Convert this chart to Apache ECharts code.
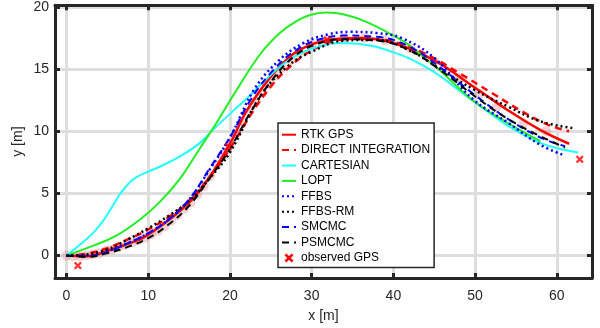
<!DOCTYPE html>
<html>
<head>
<meta charset="utf-8">
<script src="https://cdn.jsdelivr.net/npm/echarts@6/dist/echarts.min.js"></script>
<style>html,body{margin:0;padding:0;background:#fff}#c{width:600px;height:328px}</style>
</head>
<body>
<div id="c"></div>
<script>
// ---- data ----
const xTicks = [0, 10, 20, 30, 40, 50, 60];
const yTicks = [0, 5, 10, 15, 20];

const rtkX = [0, 2.5, 5.3, 7.5, 9.4, 12.6, 15.5, 17.9, 20.4, 22, 25, 27.7, 30, 32, 36, 40, 45, 50, 54, 58, 61.5];
const rtkY = [0, -0.05, 0.45, 0.95, 1.45, 2.9, 4.6, 6.7, 9.5, 11.6, 14.4, 16.2, 17.0, 17.35, 17.5, 17.1, 15.7, 13.5, 11.7, 10.1, 9.0];

const diX = [0, 2.5, 5, 7.5, 10, 12.5, 15, 17.5, 20, 22.5, 25, 27.5, 30, 33, 36, 40, 44, 48, 52, 56, 59, 61.5];
const diY = [0, 0.15, 0.6, 1.3, 2.1, 3.1, 4.4, 6.3, 8.6, 11.3, 13.6, 15.3, 16.5, 17.3, 17.45, 17.2, 16.2, 14.7, 13.1, 11.5, 10.5, 10.0];

const cartX = [0, 1.6, 3.3, 4.6, 5.8, 6.4, 7.2, 8.0, 8.8, 9.8, 11.4, 13.9, 16.3, 17.9, 20, 22, 24, 26.1, 28, 29.8, 31.6, 33.4, 35.6, 37.9, 40, 42, 44, 45.7, 49, 51.5, 53.9, 56, 58, 60.3, 62.6];
const cartY = [0, 0.85, 1.85, 2.9, 4.15, 4.8, 5.5, 6.05, 6.4, 6.7, 7.15, 7.98, 9.05, 10.1, 11.4, 12.6, 13.9, 15.2, 16.05, 16.6, 16.95, 17.1, 17.05, 16.8, 16.35, 15.85, 15.15, 14.45, 12.8, 11.6, 10.5, 9.7, 9.05, 8.6, 8.3];

const loptX = [0, 3.3, 6.1, 9, 11.4, 13.9, 16.3, 17.9, 20.8, 23.7, 26.1, 28, 29.8, 31.8, 34, 36.7, 40, 42, 44, 45.7, 49.7, 53.9, 58];
const loptY = [0, 0.8, 1.6, 2.9, 4.3, 6.2, 8.6, 10.2, 13.3, 16.2, 17.9, 18.8, 19.35, 19.55, 19.4, 18.8, 17.7, 16.9, 15.8, 14.9, 12.5, 10.7, 9.2];

const ffbsX = [0, 2.5, 5, 7.5, 10, 12.5, 15, 17.5, 20, 23, 26, 29, 32, 34.7, 38, 41, 45, 49.7, 54, 58, 60.8];
const ffbsY = [0, 0, 0.35, 1.0, 1.8, 2.9, 4.5, 6.9, 9.5, 13.4, 15.7, 17.1, 17.8, 18.0, 17.9, 17.5, 15.9, 12.6, 10.7, 8.9, 8.1];

const ffbsrmX = [0, 2.5, 5, 7.5, 10, 12.5, 15, 17.5, 20, 23.7, 27, 30, 34, 38, 42, 46, 50, 54, 58, 62];
const ffbsrmY = [0, 0.1, 0.5, 1.3, 2.2, 3.2, 4.4, 6.2, 8.3, 12.8, 15.2, 16.4, 17.3, 17.35, 16.5, 14.9, 13.3, 12.0, 10.8, 10.25];

const smcmcX = [0, 2.5, 5, 7.5, 10, 12.5, 15, 17.5, 20, 22.5, 25, 28, 31, 34, 38, 42, 46, 50, 54, 58, 61];
const smcmcY = [0, -0.05, 0.3, 1.0, 1.8, 2.9, 4.5, 7.0, 9.5, 12.5, 14.7, 16.5, 17.4, 17.7, 17.6, 16.8, 15.0, 12.9, 11.0, 9.5, 8.8];

const psmcmcX = [0, 2.5, 5, 7.5, 10, 12.5, 15, 17.5, 20, 22.5, 25, 28, 31, 34, 38, 42, 46, 50, 54, 58, 61];
const psmcmcY = [0, -0.1, 0.2, 0.7, 1.4, 2.5, 4.0, 6.2, 8.6, 11.5, 14.0, 16.1, 17.1, 17.4, 17.3, 16.5, 14.8, 12.8, 11.0, 9.6, 8.7];

const gpsX = [1.4, 19.8, 31.9, 62.8];
const gpsY = [-0.8, 8.75, 17.35, 7.75];

const haloX = [0, 0.8, 1.6, 2.4, 3.2, 4, 4.8, 5.6, 6.4, 7.2, 8, 8.8, 9.6, 10.4, 11.2, 12, 12.8, 13.6, 14.4, 15.2, 16, 16.8, 17.6, 18.4, 19.2, 20, 20.8, 21.6, 22.4, 23.2, 24, 24.8, 25.6, 26.4, 27.4, 28.5, 30, 32, 34, 36.5, 39, 42, 45, 48, 50.5, 52.6, 55.9, 58.7];
const haloY = [0, -0.05, -0.05, 0, 0.1, 0.2, 0.35, 0.5, 0.7, 0.85, 1.05, 1.25, 1.45, 1.7, 2.0, 2.35, 2.8, 3.25, 3.75, 4.25, 4.9, 5.6, 6.4, 7.3, 8.1, 9.0, 9.9, 10.8, 11.6, 12.4, 13.1, 13.8, 14.5, 15.1, 15.7, 16.3, 17.0, 17.35, 17.5, 17.5, 17.3, 16.7, 15.6, 14.3, 13.0, 11.9, 10.6, 10.0];

// ---- chart ----
const zip = (xs, ys) => xs.map((x, i) => [x, ys[i]]);
const FONT = '"Liberation Sans", Arial, sans-serif';
const TXT = '#262626';
const crossPath = 'path://M0,2 L2,0 L5,3 L8,0 L10,2 L7,5 L10,8 L8,10 L5,7 L2,10 L0,8 L3,5 Z';

function lineSeries(name, xs, ys, color, width, type, z) {
  return {
    name, type: 'line', data: zip(xs, ys), smooth: 0.4, symbol: 'none',
    lineStyle: { color, width, type }, itemStyle: { color }, z: z, animation: false
  };
}

const chart = echarts.init(document.getElementById('c'), null, { renderer: 'canvas' });
chart.setOption({
  animation: false,
  backgroundColor: '#fff',
  grid: { left: 55, right: 8, top: 5, bottom: 50, containLabel: false },
  xAxis: [{
    type: 'value', min: -1.4, max: 64.3, position: 'bottom',
    name: 'x [m]', nameLocation: 'middle', nameGap: 31, nameMoveOverlap: false,
    nameTextStyle: { fontFamily: FONT, fontSize: 14, color: TXT },
    axisLine: { show: true, onZero: false, lineStyle: { color: TXT, width: 3 } },
    axisTick: { show: true, inside: true, length: 5, lineStyle: { color: TXT, width: 3 }, customValues: xTicks },
    axisLabel: { fontFamily: FONT, fontSize: 14, color: TXT, margin: 11, customValues: xTicks },
    splitLine: { show: true, lineStyle: { color: '#dedede', width: 3 } }
  }, {
    type: 'value', min: -1.4, max: 64.3, position: 'top',
    axisLine: { show: true, onZero: false, lineStyle: { color: TXT, width: 3 } },
    axisTick: { show: true, inside: true, length: 5, lineStyle: { color: TXT, width: 3 }, customValues: xTicks },
    axisLabel: { show: false }, splitLine: { show: false }
  }],
  yAxis: [{
    type: 'value', min: -1.8, max: 20.14, position: 'left',
    name: 'y [m]', nameLocation: 'middle', nameGap: 30, nameMoveOverlap: false,
    nameTextStyle: { fontFamily: FONT, fontSize: 14, color: TXT },
    axisLine: { show: true, onZero: false, lineStyle: { color: TXT, width: 3 } },
    axisTick: { show: true, inside: true, length: 5, lineStyle: { color: TXT, width: 3 }, customValues: yTicks },
    axisLabel: { fontFamily: FONT, fontSize: 14, color: TXT, margin: 6, customValues: yTicks },
    splitLine: { show: true, lineStyle: { color: '#dedede', width: 3 } }
  }, {
    type: 'value', min: -1.8, max: 20.14, position: 'right',
    axisLine: { show: true, onZero: false, lineStyle: { color: TXT, width: 3 } },
    axisTick: { show: true, inside: true, length: 5, lineStyle: { color: TXT, width: 3 }, customValues: yTicks },
    axisLabel: { show: false }, splitLine: { show: false }
  }],
  legend: {
    orient: 'vertical', left: 278, top: 123,
    padding: [4, 4, 2, 3], itemGap: 0, itemWidth: 14, itemHeight: 9,
    backgroundColor: '#fff', borderColor: TXT, borderWidth: 1.5,
    textStyle: { fontFamily: FONT, fontSize: 12, color: '#000', lineHeight: 15.4 },
    itemStyle: { opacity: 0 },
    data: [
      { name: 'RTK GPS' }, { name: 'DIRECT INTEGRATION' }, { name: 'CARTESIAN' }, { name: 'LOPT' },
      { name: 'FFBS' }, { name: 'FFBS-RM' }, { name: 'SMCMC' }, { name: 'PSMCMC' },
      { name: 'observed GPS', icon: crossPath, itemStyle: { color: '#ff0000', opacity: 1 } }
    ]
  },
  series: [
    {
      name: 'halo', type: 'scatter', data: zip(haloX, haloY), symbol: 'circle', symbolSize: 10,
      itemStyle: { color: 'rgba(210,110,110,0.38)' }, z: 1, silent: true
    },
    lineSeries('RTK GPS', rtkX, rtkY, '#ff0000', 2.5, 'solid', 2),
    lineSeries('DIRECT INTEGRATION', diX, diY, '#ff0000', 2.5, [7, 5], 2),
    lineSeries('CARTESIAN', cartX, cartY, '#22ffff', 2, 'solid', 2),
    lineSeries('LOPT', loptX, loptY, '#22ee22', 2, 'solid', 2),
    lineSeries('FFBS', ffbsX, ffbsY, '#0000ff', 2.5, [2, 3], 3),
    lineSeries('FFBS-RM', ffbsrmX, ffbsrmY, '#000000', 2.5, [2, 3], 3),
    lineSeries('SMCMC', smcmcX, smcmcY, '#0000ff', 2, [7, 5], 3),
    lineSeries('PSMCMC', psmcmcX, psmcmcY, '#000000', 2, [7, 5], 3),
    {
      name: 'observed GPS', type: 'scatter', data: zip(gpsX, gpsY), symbol: crossPath, symbolSize: 8,
      itemStyle: { color: '#ff0000' }, z: 4
    }
  ]
});
</script>
</body>
</html>
